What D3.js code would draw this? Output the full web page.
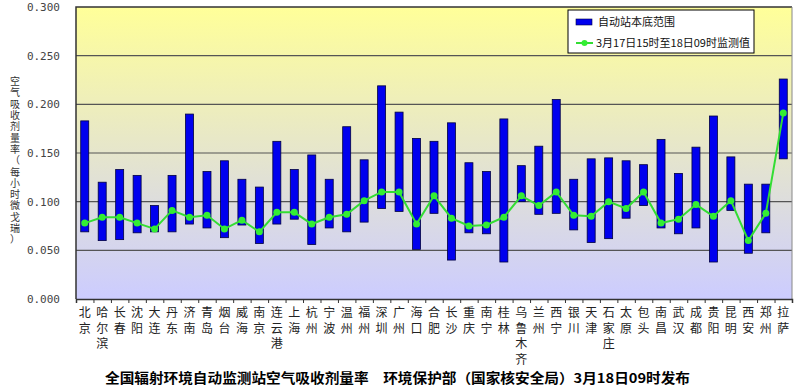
<!DOCTYPE html>
<html>
<head>
<meta charset="utf-8">
<script src="https://cdn.jsdelivr.net/npm/d3@7.9.0/dist/d3.min.js"></script>
<style>
  body { margin: 0; background: #fff; }
  svg { display: block; font-family: "Noto Sans CJK SC", sans-serif; }
</style>
</head>
<body>
<svg id="chart" width="800" height="386"></svg>
<script>
// stations (x categories)
const cities = ['北京', '哈尔滨', '长春', '沈阳', '大连', '丹东', '济南', '青岛', '烟台', '威海',
  '南京', '连云港', '上海', '杭州', '宁波', '温州', '福州', '深圳', '广州', '海口',
  '合肥', '长沙', '重庆', '南宁', '桂林', '乌鲁木齐', '兰州', '西宁', '银川', '天津',
  '石家庄', '太原', '包头', '南昌', '武汉', '成都', '贵阳', '昆明', '西安', '郑州', '拉萨'];

// background range, low and high
const rangeLow = [0.069, 0.060, 0.061, 0.068, 0.069, 0.069, 0.077, 0.073, 0.063, 0.076,
  0.057, 0.077, 0.082, 0.056, 0.073, 0.069, 0.079, 0.093, 0.090, 0.051,
  0.088, 0.040, 0.068, 0.067, 0.038, 0.100, 0.087, 0.088, 0.071, 0.058,
  0.062, 0.083, 0.096, 0.073, 0.067, 0.073, 0.038, 0.091, 0.047, 0.068, 0.144];
const rangeHigh = [0.183, 0.120, 0.133, 0.127, 0.096, 0.127, 0.190, 0.131, 0.142, 0.123,
  0.115, 0.162, 0.133, 0.148, 0.123, 0.177, 0.143, 0.219, 0.192, 0.165,
  0.162, 0.181, 0.140, 0.131, 0.185, 0.137, 0.157, 0.205, 0.123, 0.144,
  0.145, 0.142, 0.138, 0.164, 0.129, 0.156, 0.188, 0.146, 0.118, 0.118, 0.226];
// measured 3/17 15h - 3/18 09h
const measured = [0.078, 0.084, 0.084, 0.078, 0.072, 0.091, 0.084, 0.086, 0.072, 0.081,
  0.069, 0.089, 0.089, 0.077, 0.084, 0.087, 0.101, 0.110, 0.110, 0.077,
  0.106, 0.083, 0.075, 0.076, 0.084, 0.106, 0.096, 0.110, 0.086, 0.085,
  0.100, 0.093, 0.110, 0.078, 0.082, 0.097, 0.085, 0.101, 0.060, 0.088, 0.191];

const yTicks = [0, 0.05, 0.1, 0.15, 0.2, 0.25, 0.3];

const svg = d3.select('#chart');
const plotL = 76, plotR = 792, plotT = 7, plotB = 299;

let x = d3.scaleBand().domain(cities).range([plotL, plotR]);
let y = d3.scaleLinear().domain([0, 0.3]).range([plotB, plotT]);

// plot background gradient
const grad = svg.append('defs').append('linearGradient')
  .attr('id', 'bg').attr('x1', 0).attr('y1', 0).attr('x2', 0).attr('y2', 1);
grad.append('stop').attr('offset', '0%').attr('stop-color', '#ffff99');
grad.append('stop').attr('offset', '100%').attr('stop-color', '#ccccff');

svg.append('rect')
  .attr('x', plotL).attr('y', plotT)
  .attr('width', plotR - plotL).attr('height', plotB - plotT)
  .attr('fill', 'url(#bg)');

// grid lines
svg.append('g')
  .selectAll('line')
  .data(yTicks.filter((d) => d > 0 && d < 0.3))
  .join('line')
  .attr('x1', plotL).attr('x2', plotR)
  .attr('y1', (d) => y(d)).attr('y2', (d) => y(d))
  .attr('stroke', '#555').attr('stroke-width', 1.2);

// frame
svg.append('path')
  .attr('d', `M${plotL},${plotB}V${plotT}H${plotR}`)
  .attr('fill', 'none').attr('stroke', '#333').attr('stroke-width', 1.5);
svg.append('line')
  .attr('x1', plotR).attr('x2', plotR).attr('y1', plotT).attr('y2', plotB)
  .attr('stroke', '#888');

// y axis
let yAxis = d3.axisLeft(y).tickValues(yTicks).tickSize(0).tickPadding(16)
  .tickFormat(d3.format('.3f'));
let gy = svg.append('g').attr('transform', `translate(${plotL},0)`).call(yAxis);
gy.select('.domain').remove();
gy.selectAll('text').attr('fill', '#444').attr('font-size', 11)
  .attr('font-family', 'DejaVu Sans Mono, monospace');

// x axis: ticks at category boundaries
let xb = d3.scaleLinear().domain([0, cities.length]).range([plotL, plotR]);
let gx = svg.append('g').attr('transform', `translate(0,${plotB})`)
  .call(d3.axisBottom(xb).tickValues(d3.range(cities.length + 1))
    .tickSize(4).tickFormat(''));
gx.select('.domain').attr('stroke', '#333').attr('stroke-width', 1.5);
gx.selectAll('.tick line').attr('stroke', '#333');

// stacked vertical city labels
cities.forEach((c) => {
  svg.append('text')
    .attr('x', x(c) + x.bandwidth() / 2)
    .attr('y', 317)
    .attr('text-anchor', 'middle')
    .attr('font-size', 12)
    .attr('fill', '#222')
    .selectAll('tspan')
    .data(c.split(''))
    .join('tspan')
    .attr('x', x(c) + x.bandwidth() / 2)
    .attr('dy', (d, i) => (i === 0 ? 0 : 15.5))
    .text((d) => d);
});

// range bars
const barW = 8;
svg.append('g')
  .selectAll('rect')
  .data(cities)
  .join('rect')
  .attr('x', (d) => x(d) + x.bandwidth() / 2 - barW / 2)
  .attr('y', (d, i) => y(rangeHigh[i]))
  .attr('width', barW)
  .attr('height', (d, i) => y(rangeLow[i]) - y(rangeHigh[i]))
  .attr('fill', '#0000ee')
  .attr('stroke', '#000040').attr('stroke-width', 0.8);

// measured line
let line = d3.line()
  .x((d, i) => x(cities[i]) + x.bandwidth() / 2)
  .y((d) => y(d));
svg.append('path')
  .datum(measured)
  .attr('d', line)
  .attr('fill', 'none')
  .attr('stroke', '#33dd33').attr('stroke-width', 2);
svg.append('g')
  .selectAll('circle')
  .data(measured)
  .join('circle')
  .attr('cx', (d, i) => x(cities[i]) + x.bandwidth() / 2)
  .attr('cy', (d) => y(d))
  .attr('r', 3.5)
  .attr('fill', '#33ee33');

// y axis title: text turned down the page, each glyph turned back upright
svg.append('text')
  .attr('transform', 'translate(10,85) rotate(90)')
  .attr('rotate', -90)
  .attr('font-size', 10).attr('fill', '#333')
  .attr('letter-spacing', 1.3)
  .text('空气吸收剂量率（每小时微戈瑞）');

// legend
let lg = svg.append('g');
lg.append('rect').attr('x', 568).attr('y', 10).attr('width', 186).attr('height', 43)
  .attr('fill', '#fff').attr('stroke', '#000');
lg.append('rect').attr('x', 576).attr('y', 19).attr('width', 16).attr('height', 6)
  .attr('fill', '#0000ee').attr('stroke', '#000040').attr('stroke-width', 0.6);
lg.append('text').attr('x', 598).attr('y', 26).attr('font-size', 11).attr('fill', '#111')
  .text('自动站本底范围');
lg.append('line').attr('x1', 576).attr('x2', 593).attr('y1', 43).attr('y2', 43)
  .attr('stroke', '#33dd33').attr('stroke-width', 2);
lg.append('circle').attr('cx', 584.5).attr('cy', 43).attr('r', 3).attr('fill', '#33ee33');
lg.append('text').attr('x', 596).attr('y', 47).attr('font-size', 11).attr('fill', '#111')
  .text('3月17日15时至18日09时监测值');

// bottom title
svg.append('text')
  .attr('x', 105).attr('y', 383)
  .attr('font-size', 13.5).attr('font-weight', 'bold').attr('fill', '#000')
  .attr('textLength', 585).attr('lengthAdjust', 'spacingAndGlyphs')
  .text('全国辐射环境自动监测站空气吸收剂量率　环境保护部（国家核安全局）3月18日09时发布');
</script>
</body>
</html>
